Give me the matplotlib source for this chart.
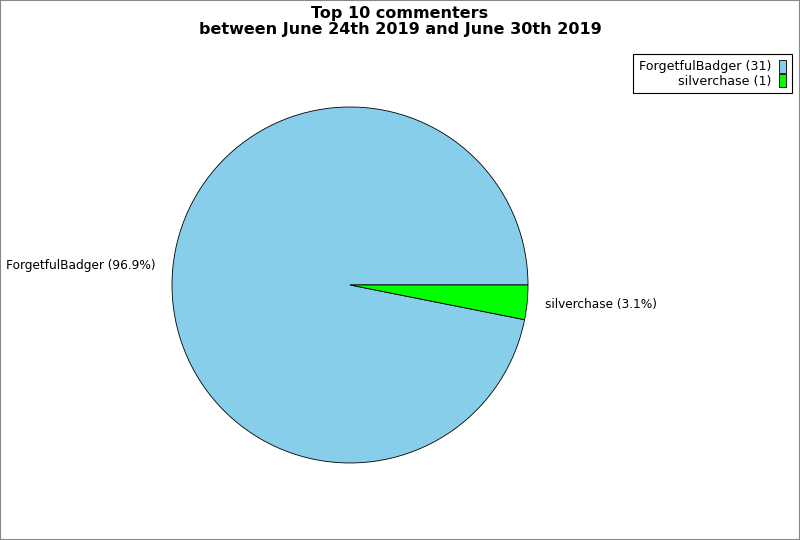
import matplotlib.pyplot as plt
from matplotlib.patches import Rectangle

names = ['ForgetfulBadger', 'silverchase']
counts = [31, 1]
colors = ['skyblue', 'lime']

total = sum(counts)
pie_labels = ['%s (%.1f%%)' % (n, c / total * 100) for n, c in zip(names, counts)]
legend_labels = ['%s (%d)' % (n, c) for n, c in zip(names, counts)]

fig = plt.figure(figsize=(8, 5.4), dpi=100)
fig.patches.append(Rectangle((0, 0), 1, 1, transform=fig.transFigure, fill=False,
                             edgecolor='#888888', linewidth=1.5))

ax = fig.add_axes([0.215, 0.1426, 0.445, 0.6593])
wedges, texts = ax.pie(counts, labels=pie_labels, colors=colors, startangle=0,
                       wedgeprops={'edgecolor': 'black', 'linewidth': 0.6},
                       labeldistance=1.1, textprops={'fontsize': 8.7})
ax.set_xlim(-1, 1)
ax.set_ylim(-1, 1)
ax.set_aspect('equal')

fig.suptitle('Top 10 commenters\nbetween June 24th 2019 and June 30th 2019',
             fontsize=11.5, fontweight='bold', y=0.989, linespacing=1.1)

leg = fig.legend(wedges, legend_labels, loc='upper right', bbox_to_anchor=(0.99, 0.9),
                 markerfirst=False, fancybox=False, fontsize=9.1, framealpha=1,
                 edgecolor='black', handlelength=0.6, handleheight=1.2,
                 borderpad=0.45, labelspacing=0.05, handletextpad=0.6, borderaxespad=0)
leg.get_frame().set_linewidth(0.8)

fig.savefig('out.png', dpi=100)
